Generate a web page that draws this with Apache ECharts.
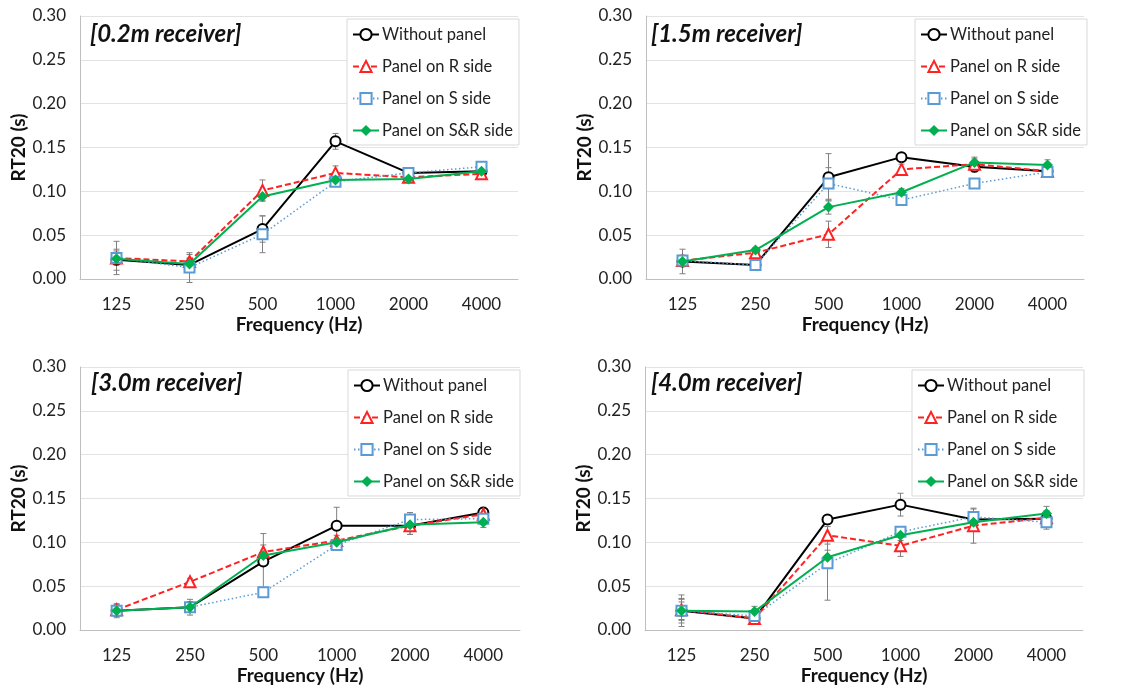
<!DOCTYPE html>
<html>
<head>
<meta charset="utf-8">
<script src="https://cdn.jsdelivr.net/npm/echarts@6/dist/echarts.min.js"></script>
<style>
html, body { margin: 0; padding: 0; background: #fff; }
#chart { width: 1128px; height: 688px; }
</style>
</head>
<body>
<div id="chart"></div>
<script>
const freqs = ['125', '250', '500', '1000', '2000', '4000'];
const seriesNames = ['Without panel', 'Panel on R side', 'Panel on S side', 'Panel on S&R side'];
const panelTitles = ['[0.2m receiver]', '[1.5m receiver]', '[3.0m receiver]', '[4.0m receiver]'];

// RT20 (s), rows: without panel, R side, S side, S&R side
const rt02 = [
    [0.022, 0.016, 0.057, 0.157, 0.121, 0.123],
    [0.024, 0.020, 0.101, 0.121, 0.116, 0.120],
    [0.024, 0.013, 0.051, 0.111, 0.121, 0.128],
    [0.023, 0.017, 0.094, 0.113, 0.114, 0.123]
];
const err02 = [
    [0.012, 0.008, 0.015, 0.009, 0.004, 0.004],
    [0.008, 0.008, 0.012, 0.008, 0.004, 0.004],
    [0.019, 0.017, 0.021, 0.005, 0.004, 0.004],
    [0.006, 0.006, 0.005, 0.004, 0.004, 0.004]
];
const rt15 = [
    [0.020, 0.016, 0.116, 0.139, 0.128, 0.123],
    [0.021, 0.030, 0.051, 0.125, 0.131, 0.123],
    [0.021, 0.016, 0.109, 0.090, 0.109, 0.122],
    [0.020, 0.033, 0.082, 0.099, 0.133, 0.130]
];
const err15 = [
    [0.014, 0.003, 0.027, 0.004, 0.006, 0.006],
    [0.006, 0.003, 0.015, 0.006, 0.006, 0.006],
    [0.006, 0.003, 0.018, 0.004, 0.004, 0.006],
    [0.006, 0.003, 0.008, 0.004, 0.006, 0.006]
];
const rt30 = [
    [0.022, 0.026, 0.078, 0.119, 0.119, 0.134],
    [0.023, 0.055, 0.089, 0.102, 0.119, 0.132],
    [0.022, 0.026, 0.043, 0.097, 0.126, 0.127],
    [0.022, 0.026, 0.085, 0.100, 0.120, 0.123]
];
const err30 = [
    [0.008, 0.009, 0.032, 0.021, 0.010, 0.006],
    [0.006, 0.004, 0.008, 0.006, 0.010, 0.006],
    [0.006, 0.006, 0.004, 0.004, 0.008, 0.006],
    [0.006, 0.006, 0.006, 0.004, 0.006, 0.006]
];
const rt40 = [
    [0.022, 0.013, 0.126, 0.143, 0.126, 0.127],
    [0.023, 0.013, 0.108, 0.096, 0.119, 0.128],
    [0.022, 0.016, 0.076, 0.112, 0.129, 0.123],
    [0.022, 0.021, 0.083, 0.108, 0.123, 0.133]
];
const err40 = [
    [0.018, 0.006, 0.004, 0.013, 0.006, 0.008],
    [0.012, 0.006, 0.010, 0.012, 0.020, 0.008],
    [0.014, 0.006, 0.042, 0.006, 0.009, 0.008],
    [0.010, 0.006, 0.008, 0.006, 0.006, 0.008]
];

const panelValues = [rt02, rt15, rt30, rt40];
const panelErrors = [err02, err15, err30, err40];

const font = 'Lato, "Open Sans", sans-serif';
const grids = [
    { left: 80, top: 16, width: 438, height: 263 },
    { left: 646, top: 16, width: 438, height: 263 },
    { left: 80, top: 367, width: 440, height: 263 },
    { left: 645, top: 367, width: 438, height: 263 }
];
const titlePos = [[90, 22], [651, 22], [91, 371], [651, 371]];
const legendPos = [[347, 19], [915, 19], [348, 370], [912, 370]];

const styles = [
    { symbol: 'emptyCircle', size: 10, color: '#000000', line: { width: 2, type: 'solid' } },
    { symbol: 'emptyTriangle', size: 11, color: '#ff2222', line: { width: 2, type: [6, 3] } },
    { symbol: 'emptyRect', size: 10, color: '#5b9bd5', line: { width: 1.5, type: [1.5, 2.5] } },
    { symbol: 'diamond', size: 11, color: '#00b050', line: { width: 2, type: 'solid' } }
];

const series = [];
panelValues.forEach((rows, p) => {
    // error bars first so they sit under the lines
    rows.forEach((vals, s) => {
        const errs = panelErrors[p][s];
        series.push({
            type: 'custom',
            xAxisIndex: p,
            yAxisIndex: p,
            silent: true,
            z: 1,
            data: vals.map((v, i) => [i, v - errs[i], v + errs[i]]),
            renderItem: (params, api) => {
                const lo = api.coord([api.value(0), api.value(1)]);
                const hi = api.coord([api.value(0), api.value(2)]);
                const st = { stroke: '#808080', lineWidth: 1 };
                return {
                    type: 'group',
                    children: [
                        { type: 'line', shape: { x1: lo[0], y1: lo[1], x2: hi[0], y2: hi[1] }, style: st },
                        { type: 'line', shape: { x1: lo[0] - 3, y1: lo[1], x2: lo[0] + 3, y2: lo[1] }, style: st },
                        { type: 'line', shape: { x1: hi[0] - 3, y1: hi[1], x2: hi[0] + 3, y2: hi[1] }, style: st }
                    ]
                };
            }
        });
    });
    rows.forEach((vals, s) => {
        const st = styles[s];
        series.push({
            name: seriesNames[s],
            type: 'line',
            xAxisIndex: p,
            yAxisIndex: p,
            data: vals,
            z: 3 + s,
            symbol: st.symbol,
            symbolSize: st.size,
            showAllSymbol: true,
            lineStyle: { color: st.color, width: st.line.width, type: st.line.type },
            itemStyle: { color: st.color, borderWidth: 1.2 },
            emphasis: { disabled: true }
        });
    });
});

const chart = echarts.init(document.getElementById('chart'));
chart.setOption({
    backgroundColor: '#fff',
    animation: false,
    textStyle: { fontFamily: font },
    title: panelTitles.map((t, p) => ({
        text: t,
        left: titlePos[p][0],
        top: titlePos[p][1],
        padding: 0,
        textStyle: { fontSize: 24, fontStyle: 'italic', fontWeight: 'bold', color: '#111', fontFamily: font }
    })),
    legend: legendPos.map(pos => ({
        data: seriesNames,
        orient: 'vertical',
        left: pos[0],
        top: pos[1],
        padding: [7, 6, 6, 5],
        itemGap: 15,
        itemWidth: 26,
        itemHeight: 14,
        backgroundColor: '#fff',
        borderColor: '#d9d9d9',
        borderWidth: 1,
        borderRadius: 0,
        textStyle: { fontSize: 16.5, color: '#222', fontFamily: font, padding: [0, 0, 0, -2] }
    })),
    grid: grids,
    xAxis: grids.map((g, p) => ({
        type: 'category',
        gridIndex: p,
        data: freqs,
        name: 'Frequency (Hz)',
        nameLocation: 'middle',
        nameGap: 36,
        nameTextStyle: { fontSize: 19, fontWeight: 'bold', color: '#111', fontFamily: font },
        axisLine: { lineStyle: { color: '#bfbfbf', width: 1 } },
        axisTick: { alignWithLabel: true, length: 5, lineStyle: { color: '#bfbfbf' } },
        axisLabel: { fontSize: 17, color: '#222', margin: 17, fontFamily: font },
        splitLine: { show: false }
    })),
    yAxis: grids.map((g, p) => ({
        type: 'value',
        gridIndex: p,
        min: 0,
        max: 0.3,
        interval: 0.05,
        name: 'RT20 (s)',
        nameLocation: 'middle',
        nameGap: 50,
        nameTextStyle: { fontSize: 19, fontWeight: 'bold', color: '#111', fontFamily: font },
        axisLine: { show: true, lineStyle: { color: '#bfbfbf', width: 1 } },
        axisTick: { show: false },
        axisLabel: { fontSize: 17, color: '#222', margin: 14, formatter: v => v.toFixed(2), fontFamily: font },
        splitLine: { lineStyle: { color: '#e3e3e3', width: 1 } }
    })),
    series: series
});
</script>
</body>
</html>
